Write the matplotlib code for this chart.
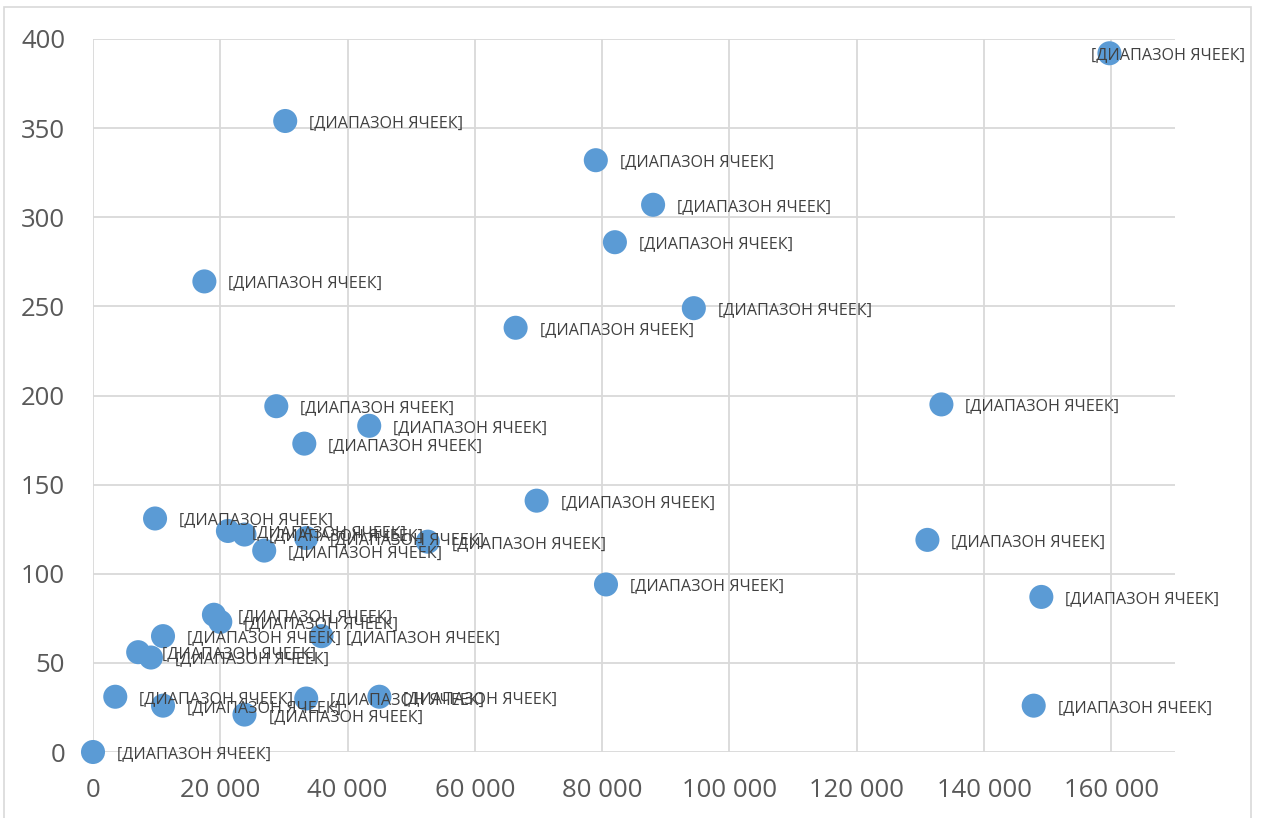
import matplotlib.pyplot as plt
from matplotlib.patches import Rectangle
from matplotlib.ticker import FuncFormatter

plt.rcParams['font.family'] = ['Open Sans', 'DejaVu Sans']

xs = [159700, 30200, 79000, 88000, 82000, 17500, 94400, 66400, 28800, 43400,
      33200, 133300, 69700, 9750, 21200, 23800, 33500, 26900, 52600, 131100,
      80600, 149000, 19000, 20000, 11000, 35900, 7100, 9100, 3500, 33500,
      45000, 11000, 23800, 147800, 0]
ys = [392, 354, 332, 307, 286, 264, 249, 238, 194, 183,
      173, 195, 141, 131, 124, 122, 120, 113, 118, 119,
      94, 87, 77, 73, 65, 65, 56, 53, 31, 30,
      31, 26, 21, 26, 0]
label = '[ДИАПАЗОН ЯЧЕЕК]'
xticks = list(range(0, 160001, 20000))
yticks = list(range(0, 401, 50))

fig = plt.figure(figsize=(12.65, 8.18), dpi=100)
W, H = 1265, 818
ax = fig.add_axes([93 / W, (818 - 752) / H, (1175 - 93) / W, (752 - 39) / H])

# chart border
fig.patches.append(Rectangle((4 / W, -0.01), (1251 - 4) / W, (818 - 7) / H + 0.01,
                             transform=fig.transFigure, fill=False,
                             edgecolor='#D9D9D9', lw=1.2))

ax.set_xlim(0, 170000)
ax.set_ylim(0, 400)
ax.set_xticks(xticks)
ax.set_yticks(yticks)
ax.grid(True, color='#D9D9D9', lw=1.3)
ax.set_axisbelow(True)
for s in ax.spines.values():
    s.set_visible(False)
ax.tick_params(length=0, labelsize=18.5, colors='#595959')
ax.tick_params(axis='x', pad=19)
ax.tick_params(axis='y', pad=20)
ax.xaxis.set_major_formatter(FuncFormatter(lambda v, p: f'{int(v):,}'.replace(',', ' ')))
ax.set_yticklabels([str(v) for v in yticks], ha='right')

ax.scatter(xs, ys, s=300, color='#5B9BD5', edgecolors='none', zorder=3, clip_on=False)

for x, y in zip(xs, ys):
    off = 17.3
    if x > 155000:
        off = -13
    ax.annotate(label, (x, y), xytext=(off, -1.5), textcoords='offset points',
                ha='left', va='center', fontsize=11.6, color='#404040',
                zorder=4, annotation_clip=False)

fig.savefig('out.png', dpi=100)
